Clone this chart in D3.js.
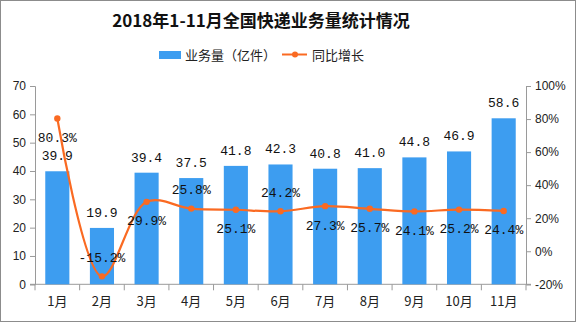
<!DOCTYPE html>
<html><head><meta charset="utf-8">
<script src="https://cdn.jsdelivr.net/npm/d3@7"></script>
<style>body{margin:0;background:#fff}svg{display:block}</style>
</head><body>
<svg id="c" width="577" height="323"></svg>
<script>
const months = ["1月","2月","3月","4月","5月","6月","7月","8月","9月","10月","11月"];
const volume = [39.9,19.9,39.4,37.5,41.8,42.3,40.8,41.0,44.8,46.9,58.6];
const growth = [80.3,-15.2,29.9,25.8,25.1,24.2,27.3,25.7,24.1,25.2,24.4];
const growthLabelSide = [1,-1,1,-1,1,-1,1,1,1,1,1]; // 1 below point, -1 above
const leftTicks = [0,10,20,30,40,50,60,70];
const rightTicks = [-20,0,20,40,60,80,100];
const title = "2018年1-11月全国快递业务量统计情况";
const legendNames = ["业务量（亿件）","同比增长"];

const svg = d3.select("#c");
const pL=35,pR=526,pT=86,pB=284.3;
const blue="#3d9df0", orange="#fa6a22", axisCol="#9a9a9a";
const cjk = "'Noto Sans CJK SC','Noto Sans',sans-serif";
const mono = "'Liberation Mono','DejaVu Sans Mono',monospace";
const sans = "'Liberation Sans','DejaVu Sans',sans-serif";

svg.append("rect").attr("x",0.5).attr("y",0.5).attr("width",575).attr("height",321)
  .attr("fill","#fff").attr("stroke","#8c8c8c");

const x = d3.scaleBand().domain(months).range([pL,pR]).paddingInner(0.46).paddingOuter(0.23);
const xc = d => x(d)+x.bandwidth()/2;
const yL = d3.scaleLinear().domain([0,70]).range([pB,pT]);
const yR = d3.scaleLinear().domain([-20,100]).range([pB,pT]);

// title
svg.append("text").attr("x",261).attr("y",27).attr("text-anchor","middle")
  .style("font-family",cjk).style("font-weight","bold").style("font-size","17px").attr("fill","#111").text(title);

// legend
svg.append("rect").attr("x",159).attr("y",51).attr("width",22).attr("height",8).attr("fill",blue);
svg.append("text").attr("x",185).attr("y",59.5).style("font-family",cjk).style("font-size","13px").attr("fill","#222").text(legendNames[0]);
svg.append("line").attr("x1",282).attr("x2",307).attr("y1",54.5).attr("y2",54.5).attr("stroke",orange).attr("stroke-width",2);
svg.append("circle").attr("cx",295).attr("cy",54.5).attr("r",3).attr("fill",orange);
svg.append("text").attr("x",312).attr("y",59.5).style("font-family",cjk).style("font-size","13px").attr("fill","#222").text(legendNames[1]);

// axes
const gL = svg.append("g").attr("transform",`translate(${pL},0)`)
  .call(d3.axisLeft(yL).tickValues(leftTicks).tickSize(5).tickPadding(4));
const gR = svg.append("g").attr("transform",`translate(${pR},0)`)
  .call(d3.axisRight(yR).tickValues(rightTicks).tickSize(5).tickPadding(4).tickFormat(d=>d+"%"));
const gX = svg.append("g").attr("transform",`translate(0,${pB})`)
  .call(d3.axisBottom(x).tickSize(0).tickPadding(12));
[gL,gR].forEach(g=>{
  g.selectAll("path.domain").attr("stroke",axisCol);
  g.selectAll(".tick line").attr("stroke",axisCol);
  g.selectAll("text").style("font-family",sans).style("font-size","12px").attr("fill","#222");
});
gX.select("path.domain").remove();
gX.append("line").attr("x1",pL-5).attr("x2",pR+5).attr("y1",0).attr("y2",0).attr("stroke",axisCol);
gX.selectAll("text").style("font-family",cjk).style("font-size","13px").attr("fill","#222");
const bounds = d3.range(months.length+1).map(i=>pL+i*x.step());
gX.selectAll("line.bt").data(bounds).join("line").attr("class","bt")
  .attr("x1",d=>d).attr("x2",d=>d).attr("y1",0).attr("y2",6).attr("stroke",axisCol);

// bars
svg.append("g").selectAll("rect").data(volume).join("rect")
  .attr("x",(d,i)=>x(months[i])).attr("width",x.bandwidth())
  .attr("y",d=>yL(d)).attr("height",d=>yL(0)-yL(d)).attr("fill",blue);

// line
const pts = growth.map((d,i)=>[xc(months[i]), yR(d)]);
svg.append("path").attr("d",d3.line().curve(d3.curveCatmullRom.alpha(0.5))(pts))
  .attr("fill","none").attr("stroke",orange).attr("stroke-width",2.2);
svg.append("g").selectAll("circle").data(pts).join("circle")
  .attr("cx",d=>d[0]).attr("cy",d=>d[1]).attr("r",3.2).attr("fill",orange);

// bar labels
svg.append("g").selectAll("text").data(volume).join("text")
  .attr("x",(d,i)=>xc(months[i])).attr("y",d=>yL(d)-11).attr("text-anchor","middle")
  .style("font-family",mono).style("font-size","13px").attr("fill","#111").text(d=>d.toFixed(1));

// growth labels
svg.append("g").selectAll("text").data(growth).join("text")
  .attr("x",(d,i)=>xc(months[i])).attr("y",(d,i)=>yR(d)+19*growthLabelSide[i]).attr("dy","0.35em")
  .attr("text-anchor","middle")
  .style("font-family",mono).style("font-size","13px").attr("fill","#111").text(d=>d.toFixed(1)+"%");
</script>
</body></html>
